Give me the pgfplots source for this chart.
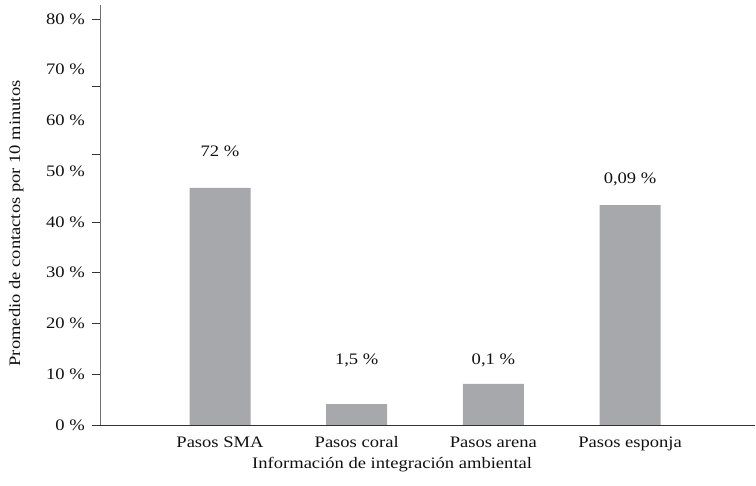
\documentclass[border=0pt]{standalone}
\usepackage{fontspec}
\setmainfont{Liberation Serif}[FakeStretch=1.16]
\usepackage{pgfplots}
\pgfplotsset{compat=1.18}
\definecolor{barc}{HTML}{A7A8AC}
\definecolor{txt}{HTML}{111111}
\begin{document}
\begin{tikzpicture}[font=\fontsize{16}{19}\selectfont, text=txt]
\useasboundingbox (-100pt,-61pt) rectangle (656pt,425pt);
\begin{axis}[
  at={(0,0)}, anchor=origin,
  scale only axis, width=655pt, height=420pt,
  xmin=0.122, xmax=4.914, ymin=0, ymax=82.76,
  axis x line=bottom, axis y line=left,
  x axis line style={-, draw=black!80, line width=0.9pt},
  y axis line style={-, draw=black!55, line width=0.9pt},
  xtick={1,2,3,4},
  xticklabels={Pasos SMA, Pasos coral, Pasos arena, Pasos esponja},
  x tick style={draw=none},
  major x tick style={draw=none},
  ytick={0,10,20,30,40,50,60,70,80},
  yticklabels={0 \%,10 \%,20 \%,30 \%,40 \%,50 \%,60 \%,70 \%,80 \%},
  tick align=outside, major tick length=8pt,
  y tick style={draw=none},
  extra y ticks={0,10,20,30,40,53.333,66.667,80},
  extra y tick labels={},
  extra y tick style={y tick style={draw=black!80, line width=0.8pt}},
  xticklabel style={text=txt},
  yticklabel style={text=txt, inner sep=0pt, xshift=-7pt},
  xlabel={Información de integración ambiental},
  ylabel={Promedio de contactos por 10 minutos},
  xlabel style={at={(axis description cs:0.446,-0.095)}, anchor=center, text=txt},
  ylabel style={at={(axis description cs:-0.128,0.48)}, anchor=center, rotate=0, text=txt},
  clip=false,
]
\addplot[ybar, bar width=61pt, bar shift=0pt, fill=barc, draw=none]
  coordinates {(1,46.7) (2,4.1) (3,8.1) (4,43.3)};
\node[text=txt] at (axis cs:1,54.0) {72 \%};
\node[text=txt] at (axis cs:2,12.8) {1,5 \%};
\node[text=txt] at (axis cs:3,12.8) {0,1 \%};
\node[text=txt] at (axis cs:4,48.3) {0,09 \%};
\end{axis}
\end{tikzpicture}
\end{document}
